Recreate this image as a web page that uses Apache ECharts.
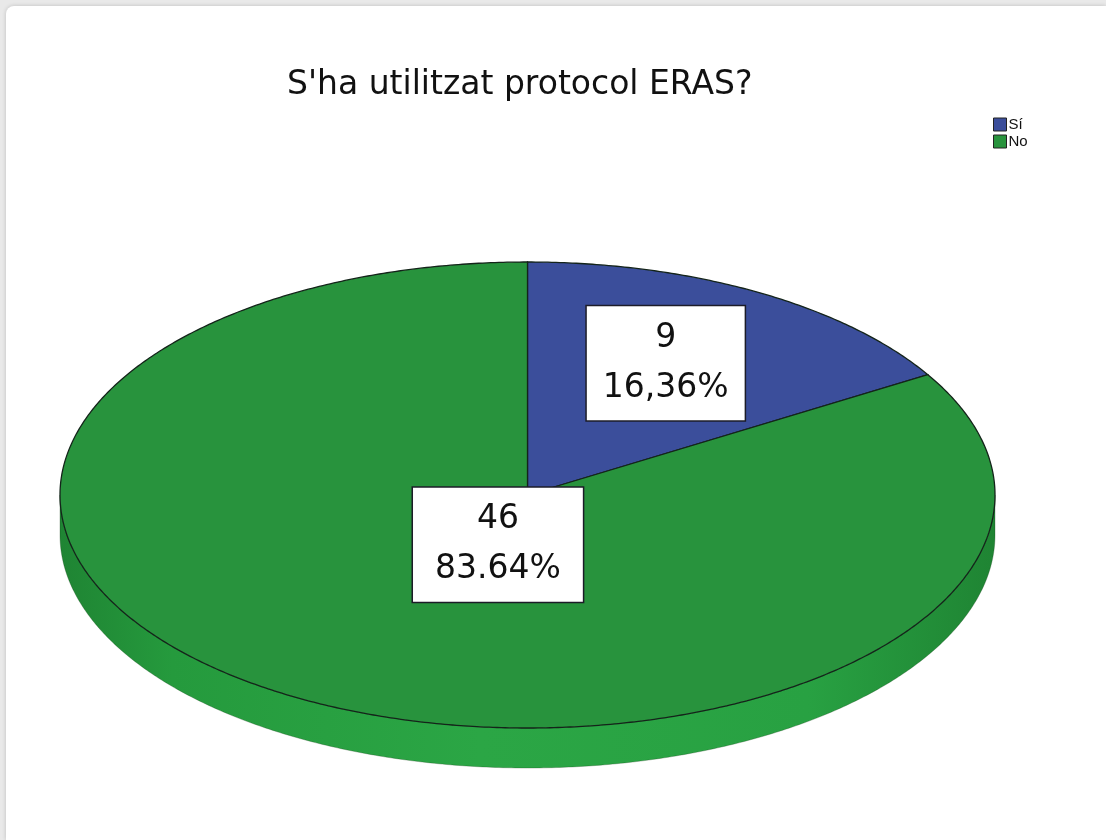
<!DOCTYPE html>
<html>
<head>
<meta charset="utf-8">
<script src="https://cdn.jsdelivr.net/npm/echarts@6/dist/echarts.min.js"></script>
<style>
  html, body { margin: 0; padding: 0; width: 1106px; height: 840px; overflow: hidden; background: #e9e9e9; }
  #frame { position: absolute; left: 6px; top: 6px; right: 0; bottom: 0; background: #fff;
           border-top-left-radius: 8px; box-shadow: 0 0 4px rgba(0,0,0,0.18); }
  #chart { position: absolute; left: 0; top: 0; width: 1106px; height: 840px; }
</style>
</head>
<body>
<div id="frame"></div>
<div id="chart"></div>
<script>
// ---- data ----
const titleText = "S'ha utilitzat protocol ERAS?";
const categories = ['Sí', 'No'];
const counts = [9, 46];
const decimalSeparators = [',', '.'];

// ---- style ----
const topColors = ['#3b4e9b', '#28933d'];
const sideColors = ['#2f3f80', '#2ba645'];
const labelRadius = [0.61, 0.22];
const labelNudge = [[-2, -8], [21, 5]];
const labelPadH = [16, 22];
const depth = 40;

const total = counts.reduce((a, b) => a + b, 0);
const starts = [];
counts.reduce((acc, v, i) => { starts[i] = acc; return acc + v; }, 0);

function pctText(i) {
  return (counts[i] / total * 100).toFixed(2).replace('.', decimalSeparators[i]) + '%';
}

function renderItem(params, api) {
  const i = params.seriesIndex;
  const c = api.coord([0, 0]);
  const e = api.coord([1, 1]);
  const rx = e[0] - c[0];
  const ry = c[1] - e[1];
  const a0 = api.value(1) / total * Math.PI * 2;
  const a1 = (api.value(1) + api.value(0)) / total * Math.PI * 2;
  const pt = (t, dy) => [c[0] + rx * Math.sin(t), c[1] - ry * Math.cos(t) + dy];
  const arc = (s, f, dy) => {
    const pts = [];
    const n = Math.max(2, Math.ceil((f - s) / (Math.PI / 360)));
    for (let k = 0; k <= n; k++) pts.push(pt(s + (f - s) * k / n, dy));
    return pts;
  };
  const children = [];
  const s = Math.max(a0, Math.PI / 2), f = Math.min(a1, Math.PI * 3 / 2);
  if (s < f) {
    const pts = arc(s, f, 0).concat(arc(s, f, depth).reverse());
    children.push({
      type: 'polygon',
      shape: { points: pts },
      style: {
        fill: new echarts.graphic.LinearGradient(0, 0, 1, 0, [
          { offset: 0, color: '#1f8433' },
          { offset: 0.12, color: '#259a3d' },
          { offset: 0.45, color: sideColors[i] },
          { offset: 0.8, color: '#28a142' },
          { offset: 1, color: '#1f8433' }
        ]),
        stroke: 'rgba(20,60,20,0.35)', lineWidth: 0.8
      }
    });
  }
  const topPts = [c].concat(arc(a0, a1, 0));
  children.push({
    type: 'polygon',
    shape: { points: topPts },
    style: { fill: topColors[i], stroke: '#14241a', lineWidth: 1.3 }
  });
  const mid = (a0 + a1) / 2;
  const r = labelRadius[i];
  children.push({
    type: 'text',
    x: c[0] + rx * r * Math.sin(mid) + labelNudge[i][0],
    y: c[1] - ry * r * Math.cos(mid) + labelNudge[i][1],
    z2: 10,
    style: {
      text: api.value(0) + '\n' + pctText(i),
      fill: '#111',
      font: '33px "DejaVu Sans"',
      align: 'center',
      verticalAlign: 'middle',
      lineHeight: 50,
      backgroundColor: '#ffffff',
      borderColor: '#1c1c28',
      borderWidth: 1.5,
      padding: [7, labelPadH[i], 7, labelPadH[i]]
    }
  });
  return { type: 'group', children };
}

const chart = echarts.init(document.getElementById('chart'), null, { renderer: 'canvas' });
chart.setOption({
  backgroundColor: 'transparent',
  animation: false,
  title: {
    text: titleText,
    left: 282,
    top: 64,
    textStyle: { fontFamily: '"DejaVu Sans"', fontWeight: 'normal', fontSize: 33, color: '#111' }
  },
  legend: {
    data: categories,
    orient: 'vertical',
    left: 988,
    top: 112,
    itemWidth: 13,
    itemHeight: 13,
    itemGap: 2,
    icon: 'rect',
    itemStyle: { borderColor: '#222', borderWidth: 1 },
    textStyle: { fontFamily: '"Liberation Sans"', fontSize: 15, color: '#111', padding: [0, 0, 0, -3] }
  },
  grid: { left: 60, top: 262, width: 935, height: 466 },
  xAxis: { type: 'value', min: -1, max: 1, show: false },
  yAxis: { type: 'value', min: -1, max: 1, show: false },
  series: categories.map((name, i) => ({
    type: 'custom',
    name: name,
    renderItem: renderItem,
    itemStyle: { color: topColors[i] },
    data: [[counts[i], starts[i]]],
    clip: false
  }))
});
</script>
</body>
</html>
